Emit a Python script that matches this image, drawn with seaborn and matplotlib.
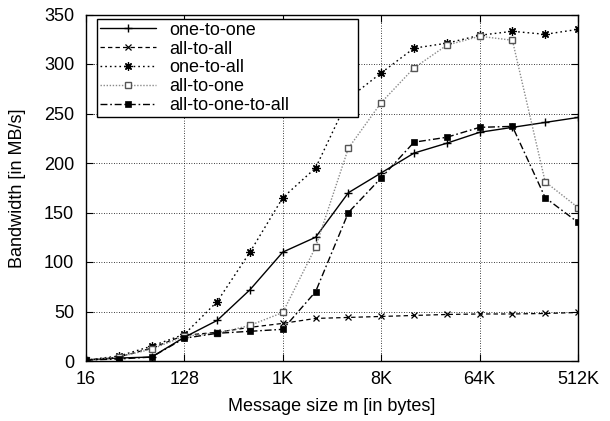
import numpy as np
import pandas as pd
import matplotlib
matplotlib.use("Agg")
import matplotlib.pyplot as plt
import seaborn as sns

# ---- data ----
sizes = [16, 32, 64, 128, 256, 512, 1024, 2048, 4096, 8192, 16384, 32768,
         65536, 131072, 262144, 524288]
one_to_one = [1, 3, 4, 24, 41, 72, 110, 125, 170, 190, 210, 220, 231, 236, 241, 246]
all_to_all = [1, 4, 13, 26, 29, 34, 38, 43, 44, 45, 46, 47, 47.5, 47.5, 48, 49]
one_to_all = [1, 5, 15, 27, 60, 110, 165, 195, 265, 291, 316, 321, 329, 333, 330, 335]
all_to_one = [1, 4, 12, 25, 28, 36, 49, 115, 215, 261, 296, 319, 328, 324, 181, 155]
all_to_one_to_all = [1, 2, 4, 23, 28, 30, 32, 70, 150, 185, 221, 226, 236, 237, 165, 140]
series_names = ["one-to-one", "all-to-all", "one-to-all", "all-to-one", "all-to-one-to-all"]
xtick_vals = [16, 128, 1024, 8192, 65536, 524288]
xtick_labels = ["16", "128", "1K", "8K", "64K", "512K"]
ytick_vals = [0, 50, 100, 150, 200, 250, 300, 350]

sns.set_theme(style="white")
plt.rcParams["font.family"] = ["Liberation Sans", "DejaVu Sans"]

fig = plt.figure(figsize=(6.10, 4.21), dpi=100)
ax = fig.add_axes([86 / 610, 1 - 361 / 421, (578 - 86) / 610, (361 - 14.5) / 421])

values = [one_to_one, all_to_all, one_to_all, all_to_one, all_to_one_to_all]
styles = [
    dict(color="black", marker="+", markersize=6, markeredgewidth=1.0, markeredgecolor="black",
         linestyle="-", linewidth=1.0),
    dict(color="black", marker="x", markersize=4.5, markeredgewidth=0.9, markeredgecolor="black",
         linestyle=(0, (3.5, 2.5)), linewidth=0.9),
    dict(color="black", marker=(8, 2, 0), markersize=6, markeredgewidth=0.9, markeredgecolor="black",
         linestyle=(0, (1.2, 2.2)), linewidth=1.0),
    dict(color="#8a8a8a", marker="s", markersize=4.8, markeredgewidth=1.0, markerfacecolor="white",
         markeredgecolor="#555555", linestyle=(0, (1, 1.2)), linewidth=1.0),
    dict(color="black", marker="s", markersize=5, markeredgewidth=0.5, markeredgecolor="black",
         markerfacecolor="black", linestyle=(0, (5, 2, 1.2, 2)), linewidth=1.0),
]

for name, vals, st in zip(series_names, values, styles):
    df = pd.DataFrame({"size": sizes, "bw": vals})
    sns.lineplot(data=df, x="size", y="bw", ax=ax, label=name, errorbar=None, **st)

ax.set_xscale("log", base=2)
ax.set_xlim(16, 524288)
ax.set_ylim(0, 350)
ax.set_xticks(xtick_vals)
ax.set_xticklabels(xtick_labels)
ax.set_yticks(ytick_vals)
ax.set_yticklabels([str(v) for v in ytick_vals])
ax.minorticks_off()

ax.tick_params(axis="both", which="major", direction="in", length=5, width=0.8,
               colors="black", labelsize=13, top=True, right=True,
               bottom=True, left=True, pad=8.5)
ax.tick_params(axis="x", pad=7)

ax.grid(True, which="major", color="black", linestyle=(0, (1, 2)), linewidth=0.6)
for sp in ax.spines.values():
    sp.set_visible(True)
    sp.set_color("black")
    sp.set_linewidth(1.0)

ax.set_xlabel("Message size m [in bytes]", fontsize=13, color="black")
ax.set_ylabel("Bandwidth [in MB/s]", fontsize=13, color="black")
ax.xaxis.set_label_coords(0.5, (361 - 398) / 346.5, transform=ax.transAxes)
ax.yaxis.set_label_coords((26 - 86) / 492, 0.5, transform=ax.transAxes)

# legend box in figure coords: x 97..358, y 19..112 px
x0 = 97 / 610
y_top = 1 - 19 / 421
w = (358 - 97) / 610
h = (112 - 19) / 421
leg = ax.legend(loc="upper left", bbox_to_anchor=(x0, y_top - h, w, h),
                bbox_transform=fig.transFigure, mode="expand",
                frameon=True, fancybox=False, framealpha=1, edgecolor="black",
                fontsize=13, handlelength=3.1, handletextpad=0.75,
                labelspacing=0.1, borderpad=0.15, borderaxespad=0.0)
leg.get_frame().set_linewidth(1.0)
for t in leg.get_texts():
    t.set_color("black")

fig.savefig("out.png", dpi=100)
